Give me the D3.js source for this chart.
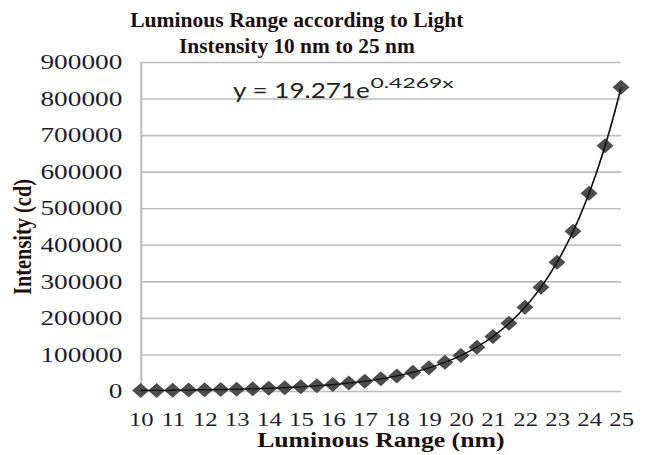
<!DOCTYPE html>
<html>
<head>
<meta charset="utf-8">
<script src="https://d3js.org/d3.v7.min.js"></script>
<style>
  body { margin: 0; background: #fff; }
  svg { display: block; }
</style>
</head>
<body>
<script>

    // data
    var xValues = [10, 10.5, 11, 11.5, 12, 12.5, 13, 13.5, 14, 14.5, 15, 15.5, 16, 16.5, 17, 17.5,
        18, 18.5, 19, 19.5, 20, 20.5, 21, 21.5, 22, 22.5, 23, 23.5, 24, 24.5, 25];
    var intensity = [1400, 1600, 2000, 2500, 3100, 3900, 4800, 6000, 7400, 9200, 11400, 14100,
        17500, 21600, 26800, 33200, 41200, 51000, 63300, 78400, 97200, 120000, 149000, 185000,
        229000, 284000, 352000, 437000, 541000, 671000, 831000];
    var xTicks = [10, 11, 12, 13, 14, 15, 16, 17, 18, 19, 20, 21, 22, 23, 24, 25];
    var yTicks = [0, 100000, 200000, 300000, 400000, 500000, 600000, 700000, 800000, 900000];
    var titleLines = ["Luminous Range according to Light", "Instensity 10 nm to 25 nm"];
    var equationMain = "y = 19.271e";
    var equationExp = "0.4269x";

    var data = xValues.map(function (d, i) { return { x: d, y: intensity[i] }; });

    // the original picture is stretched sideways, so draw in a narrower box and stretch it
    var outW = 651, outH = 455, innerW = 500;
    var margin = { top: 62, right: 23, bottom: 64, left: 108 };
    var width = innerW - margin.left - margin.right,
        height = outH - margin.top - margin.bottom;

    var svg = d3.select("body").append("svg")
        .attr("width", outW)
        .attr("height", outH)
        .attr("viewBox", "0 0 " + innerW + " " + outH)
        .attr("preserveAspectRatio", "none");

    var g = svg.append("g")
        .attr("transform", "translate(" + margin.left + "," + margin.top + ")");

    var x = d3.scaleLinear().domain([10, 25]).range([0, width]);
    var y = d3.scaleLinear().domain([0, 900000]).range([height, 0]);

    // grid lines
    g.append("g")
        .attr("class", "grid")
        .call(d3.axisLeft(y).tickValues(yTicks).tickSize(-width).tickFormat(""))
        .call(function (s) {
            s.select(".domain").remove();
            s.selectAll("line").attr("stroke", "#bdbdbd").attr("stroke-width", 1.6);
        });

    // y axis
    g.append("g")
        .attr("class", "y axis")
        .call(d3.axisLeft(y).tickValues(yTicks).tickSize(0).tickPadding(14).tickFormat(d3.format("d")))
        .call(function (s) {
            s.select(".domain").attr("stroke", "#bdbdbd").attr("stroke-width", 1.6);
            s.selectAll("text")
                .attr("fill", "#1c1c2c")
                .style("font-family", "'Liberation Serif', 'DejaVu Serif', serif")
                .style("font-size", "21px");
        });

    // x axis labels only
    g.append("g")
        .attr("class", "x axis")
        .attr("transform", "translate(0," + height + ")")
        .call(d3.axisBottom(x).tickValues(xTicks).tickSize(0).tickPadding(22).tickFormat(d3.format("d")))
        .call(function (s) {
            s.select(".domain").remove();
            s.selectAll("text")
                .attr("fill", "#1c1c2c")
                .style("font-family", "'Liberation Serif', 'DejaVu Serif', serif")
                .style("font-size", "19px");
        });

    // exponential trendline fitted to the points (least squares on ln y)
    var mx = d3.mean(data, function (d) { return d.x; }),
        my = d3.mean(data, function (d) { return Math.log(d.y); });
    var b = d3.sum(data, function (d) { return (d.x - mx) * (Math.log(d.y) - my); }) /
        d3.sum(data, function (d) { return (d.x - mx) * (d.x - mx); });
    var a = Math.exp(my - b * mx);
    var trend = d3.range(10, 25.001, 0.05).map(function (t) { return { x: t, y: a * Math.exp(b * t) }; });

    // points
    var hw = 6.5, hh = 7.5;
    g.append("g")
        .attr("class", "points")
        .selectAll("path")
        .data(data)
        .enter().append("path")
        .attr("transform", function (d) { return "translate(" + x(d.x) + "," + y(d.y) + ")"; })
        .attr("d", "M0," + (-hh) + "L" + hw + ",0L0," + hh + "L" + (-hw) + ",0Z")
        .attr("fill", "#4d4d4d");

    g.append("path")
        .datum(trend)
        .attr("fill", "none")
        .attr("stroke", "#111")
        .attr("stroke-width", 1.3)
        .attr("d", d3.line()
            .x(function (d) { return x(d.x); })
            .y(function (d) { return y(d.y); }));

    // trendline equation
    svg.append("text")
        .attr("x", 179)
        .attr("y", 98)
        .attr("textLength", 105)
        .attr("lengthAdjust", "spacingAndGlyphs")
        .attr("fill", "#222")
        .style("font-family", "Lato, 'Liberation Sans', sans-serif")
        .style("font-size", "21px")
        .text(equationMain);

    svg.append("text")
        .attr("x", 284.5)
        .attr("y", 88)
        .attr("textLength", 64)
        .attr("lengthAdjust", "spacingAndGlyphs")
        .attr("fill", "#222")
        .style("font-family", "Lato, 'Liberation Sans', sans-serif")
        .style("font-size", "14px")
        .text(equationExp);

    // title
    var titleLen = [256, 181];
    svg.selectAll(".title")
        .data(titleLines)
        .enter().append("text")
        .attr("class", "title")
        .attr("x", 228)
        .attr("y", function (d, i) { return 27 + i * 26; })
        .attr("text-anchor", "middle")
        .attr("textLength", function (d, i) { return titleLen[i]; })
        .attr("lengthAdjust", "spacingAndGlyphs")
        .attr("fill", "#1a1010")
        .style("font-family", "'Liberation Serif', serif")
        .style("font-weight", "bold")
        .style("font-size", "20px")
        .text(function (d) { return d; });

    // axis titles
    svg.append("text")
        .attr("x", margin.left + width / 2)
        .attr("y", 447)
        .attr("text-anchor", "middle")
        .attr("textLength", 190)
        .attr("lengthAdjust", "spacingAndGlyphs")
        .attr("fill", "#1a1010")
        .style("font-family", "'Liberation Serif', serif")
        .style("font-weight", "bold")
        .style("font-size", "20px")
        .text("Luminous Range (nm)");

    svg.append("text")
        .attr("transform", "translate(24,237) rotate(-90)")
        .attr("text-anchor", "middle")
        .attr("textLength", 116)
        .attr("lengthAdjust", "spacingAndGlyphs")
        .attr("fill", "#1a1010")
        .style("font-family", "'Liberation Serif', serif")
        .style("font-weight", "bold")
        .style("font-size", "19px")
        .text("Intensity (cd)");

</script>
</body>
</html>
